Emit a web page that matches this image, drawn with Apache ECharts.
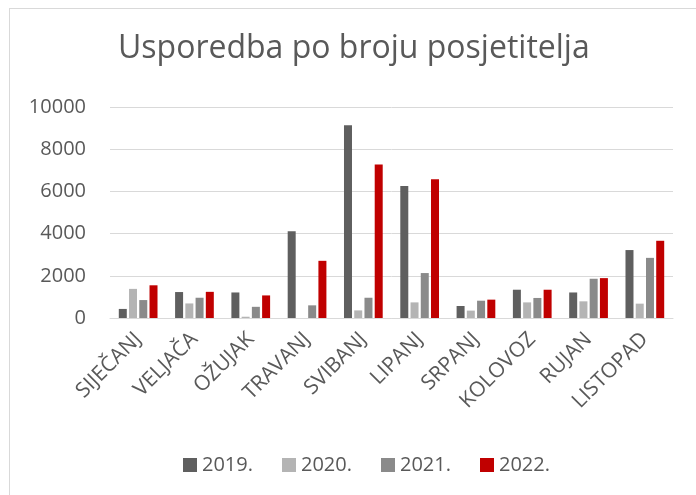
<!DOCTYPE html>
<html>
<head>
<meta charset="utf-8">
<script src="https://cdn.jsdelivr.net/npm/echarts@6/dist/echarts.min.js"></script>
<style>
  html, body { margin: 0; padding: 0; background: #fff; }
  #frame { position: absolute; left: 9px; top: 8px; width: 700px; height: 500px; border: 1px solid #d9d9d9; box-sizing: border-box; }
  #chart { position: absolute; left: 0; top: 0; width: 696px; height: 495px; }
</style>
</head>
<body>
<div id="frame"></div>
<div id="chart"></div>
<script>
// mjeseci
const months = ['SIJEČANJ', 'VELJAČA', 'OŽUJAK', 'TRAVANJ', 'SVIBANJ', 'LIPANJ', 'SRPANJ', 'KOLOVOZ', 'RUJAN', 'LISTOPAD']
const years = ['2019.', '2020.', '2021.', '2022.']
// broj posjetitelja po godinama
const v2019 = [430, 1230, 1210, 4110, 9140, 6260, 570, 1340, 1210, 3220]
const v2020 = [1380, 690, 60, 0, 360, 740, 350, 740, 790, 680]
const v2021 = [850, 960, 530, 600, 960, 2130, 820, 950, 1860, 2850]
const v2022 = [1550, 1240, 1070, 2710, 7280, 6570, 870, 1340, 1890, 3660]
const yTicks = [0, 2000, 4000, 6000, 8000, 10000]

const colors = ['#5f5f5f', '#b4b4b4', '#8a8a8a', '#c00000']
const font = '"Open Sans", "Noto Sans", sans-serif'

const chart = echarts.init(document.getElementById('chart'))

const allValues = [v2019, v2020, v2021, v2022]
const series = years.map((name, i) => {
  return {
    name: name,
    type: 'bar',
    data: allValues[i],
    barWidth: 8,
    barGap: '28%',
    itemStyle: { color: colors[i] }
  }
})

const option = {
  animation: false,
  title: {
    text: 'Usporedba po broju posjetitelja',
    left: 113,
    top: 28,
    textStyle: { color: '#595959', fontSize: 32, fontWeight: 'normal', fontFamily: font }
  },
  legend: {
    top: 450,
    left: 178,
    itemWidth: 14,
    itemHeight: 14,
    itemGap: 29,
    icon: 'rect',
    textStyle: { color: '#595959', fontSize: 20, fontFamily: font }
  },
  grid: {
    left: 110,
    right: 23,
    top: 107,
    bottom: 177,
    containLabel: false
  },
  xAxis: {
    type: 'category',
    data: months,
    axisTick: { show: false },
    axisLine: { lineStyle: { color: '#d9d9d9', width: 1 } },
    axisLabel: {
      rotate: 45,
      interval: 0,
      margin: 18,
      color: '#595959',
      fontSize: 21,
      fontFamily: font
    }
  },
  yAxis: {
    type: 'value',
    min: yTicks[0],
    max: yTicks[yTicks.length - 1],
    interval: 2000,
    axisLine: { show: false },
    axisTick: { show: false },
    splitLine: { lineStyle: { color: '#d9d9d9', width: 1 } },
    axisLabel: {
      margin: 24,
      color: '#595959',
      fontSize: 20,
      fontFamily: font,
      formatter: (v) => String(v)
    }
  },
  series: series
}

chart.setOption(option)
</script>
</body>
</html>
